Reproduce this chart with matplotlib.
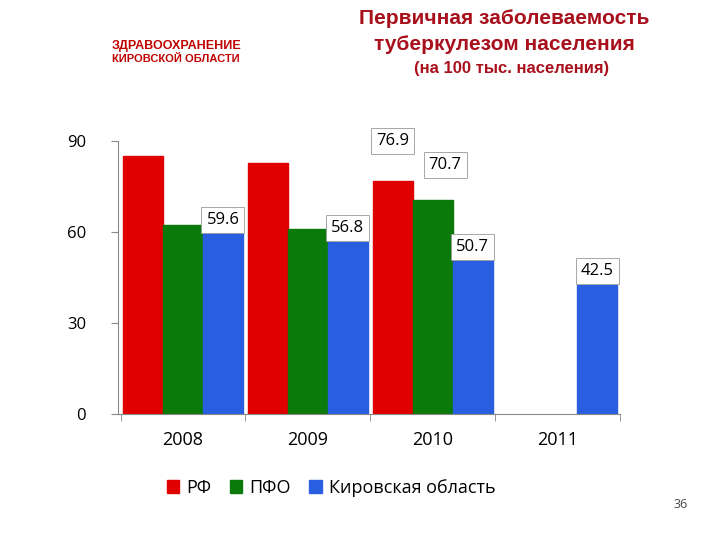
import matplotlib
matplotlib.use("Agg")
import matplotlib.pyplot as plt
import numpy as np

years = ["2008", "2009", "2010", "2011"]
rf = [85.1, 82.8, 76.9, None]
pfo = [62.3, 61.0, 70.7, None]
kirov = [59.6, 56.8, 50.7, 42.5]
series_names = ["РФ", "ПФО", "Кировская область"]
colors = ["#e00000", "#0a7a0a", "#2a5ee0"]
yticks = [0, 30, 60, 90]

plt.rcParams['font.family'] = ['Open Sans', 'DejaVu Sans']
fig = plt.figure(figsize=(7.2, 5.4), dpi=100)
ax = fig.add_axes([0.164, 0.233, 0.697, 0.506])

x = np.arange(len(years))
w = 0.32
handles = []
for i, (vals, c, name) in enumerate(zip([rf, pfo, kirov], colors, series_names)):
    xs = [xi + (i - 1) * w for xi, v in zip(x, vals) if v is not None]
    vs = [v for v in vals if v is not None]
    h = ax.bar(xs, vs, w, color=c, edgecolor=c, label=name)
    handles.append(h)

def lab(xp, v, dx=0.0, dy=4.5):
    ax.text(xp + dx, v + dy, f"{v:.1f}", ha="center", va="center", fontsize=12,
            clip_on=False, bbox=dict(boxstyle="square,pad=0.3", fc="white", ec="#999999", lw=0.6))

for xi, v in zip(x, kirov):
    lab(xi + w, v)
lab(x[2] - w, rf[2], dx=0.0, dy=13)
lab(x[2], pfo[2], dx=0.1, dy=11.5)

ax.set_xlim(-0.52, 3.5)
ax.set_ylim(0, 90)
ax.set_yticks(yticks)
ax.set_yticklabels([str(t) for t in yticks], fontsize=12)
ax.set_xticks(x)
ax.set_xticklabels(years, fontsize=13)
ax.set_xticks(np.arange(len(years) + 1) - 0.5, minor=True)
ax.tick_params(axis="x", which="major", length=0, pad=12)
ax.tick_params(axis="x", which="minor", length=5, color="#888888")
ax.tick_params(axis="y", length=5, color="#888888", pad=18)
for s in ["top", "right"]:
    ax.spines[s].set_visible(False)
for s in ["left", "bottom"]:
    ax.spines[s].set_color("#888888")

fig.legend(handles=handles, labels=series_names, loc="center", bbox_to_anchor=(0.46, 0.097),
           ncol=3, frameon=False, fontsize=13, handlelength=0.7, handleheight=0.7,
           columnspacing=1.0, handletextpad=0.4)

tf = ["Liberation Sans", "DejaVu Sans"]
tc = "#a8101c"
fig.text(0.70, 0.965, "Первичная заболеваемость", ha="center", va="center",
         fontsize=15, color=tc, weight="bold", family=tf)
fig.text(0.70, 0.917, "туберкулезом населения", ha="center", va="center",
         fontsize=15, color=tc, weight="bold", family=tf)
fig.text(0.71, 0.873, "(на 100 тыс. населения)", ha="center", va="center",
         fontsize=12, color=tc, weight="bold", family=tf)
fig.text(0.155, 0.91, "ЗДРАВООХРАНЕНИЕ", fontsize=9, weight="bold", color="#c00000", family=tf)
fig.text(0.155, 0.885, "КИРОВСКОЙ ОБЛАСТИ", fontsize=8, weight="bold", color="#c00000", family=tf)
fig.text(0.945, 0.06, "36", fontsize=9, color="#444444", ha="center")

fig.savefig("out.png", dpi=100)
